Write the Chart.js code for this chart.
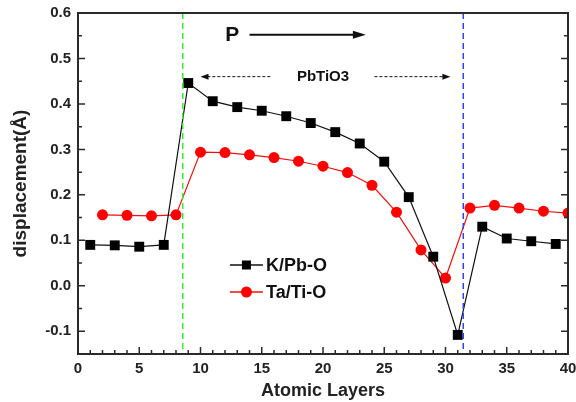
<!DOCTYPE html>
<html>
<head>
<meta charset="utf-8">
<script src="https://cdn.jsdelivr.net/npm/chart.js@4"></script>
<style>
  html, body { margin: 0; padding: 0; background: #fff; }
  #wrap { width: 576px; height: 402px; }
</style>
</head>
<body>
<div id="wrap"><canvas id="chart" width="576" height="402"></canvas></div>
<script>
// data
const kLayers = [1, 3, 5, 7, 9, 11, 13, 15, 17, 19, 21, 23, 25, 27, 29, 31, 33, 35, 37, 39];
const kValues = [0.090, 0.089, 0.086, 0.090, 0.446, 0.406, 0.393, 0.385, 0.373, 0.358, 0.338, 0.313, 0.273, 0.195, 0.064, -0.108, 0.130, 0.104, 0.098, 0.092];
const taLayers = [2, 4, 6, 8, 10, 12, 14, 16, 18, 20, 22, 24, 26, 28, 30, 32, 34, 36, 38, 40];
const taValues = [0.156, 0.155, 0.154, 0.156, 0.294, 0.293, 0.288, 0.282, 0.274, 0.263, 0.249, 0.221, 0.162, 0.079, 0.017, 0.171, 0.177, 0.171, 0.164, 0.160];
const xTicks = [0, 5, 10, 15, 20, 25, 30, 35, 40];
const yTicks = [-0.1, 0.0, 0.1, 0.2, 0.3, 0.4, 0.5, 0.6];
const boundaries = [8.55, 31.45];

const FONT = '"Liberation Sans", Arial, sans-serif';
const AXIS = '#2a2a2a';

const toPts = (xs, ys) => xs.map((x, i) => ({ x: x, y: ys[i] }));

// box, inward ticks, boundaries, arrows, legend
const decor = {
  id: 'decor',
  afterDatasetsDraw(chart) {
    const { ctx, chartArea: a, scales: { x, y } } = chart;
    ctx.save();

    // vertical dashed boundaries
    const bColors = ['#33ee33', '#3344ee'];
    boundaries.forEach((b, i) => {
      const px = x.getPixelForValue(b);
      ctx.strokeStyle = bColors[i];
      ctx.lineWidth = 1.5;
      ctx.setLineDash([6, 4]);
      ctx.beginPath();
      ctx.moveTo(px, a.top);
      ctx.lineTo(px, a.bottom);
      ctx.stroke();
    });
    ctx.setLineDash([]);

    // frame
    ctx.strokeStyle = AXIS;
    ctx.lineWidth = 2;
    ctx.strokeRect(a.left, a.top, a.right - a.left, a.bottom - a.top);

    // ticks (inward)
    ctx.lineWidth = 1.5;
    ctx.beginPath();
    for (let v = 0; v <= 40; v += 1) {
      const px = x.getPixelForValue(v);
      const len = v % 5 === 0 ? 7 : 4;
      ctx.moveTo(px, a.bottom);
      ctx.lineTo(px, a.bottom - len);
    }
    for (let k = -3; k <= 12; k++) {
      const v = k * 0.05;
      const py = y.getPixelForValue(v);
      const len = k % 2 === 0 ? 7 : 4;
      ctx.moveTo(a.left, py);
      ctx.lineTo(a.left + len, py);
      ctx.moveTo(a.right, py);
      ctx.lineTo(a.right - len, py);
    }
    ctx.stroke();

    // P arrow
    const pY = y.getPixelForValue(0.552);
    const p0 = x.getPixelForValue(14.0), p1 = x.getPixelForValue(23.5);
    ctx.fillStyle = '#111';
    ctx.strokeStyle = '#111';
    ctx.lineWidth = 2;
    ctx.beginPath();
    ctx.moveTo(p0, pY);
    ctx.lineTo(p1 - 8, pY);
    ctx.stroke();
    ctx.beginPath();
    ctx.moveTo(p1, pY);
    ctx.lineTo(p1 - 13, pY - 4);
    ctx.lineTo(p1 - 13, pY + 4);
    ctx.closePath();
    ctx.fill();
    ctx.font = 'bold 21px ' + FONT;
    ctx.textAlign = 'center';
    ctx.textBaseline = 'middle';
    ctx.fillText('P', x.getPixelForValue(12.6), pY);

    // PbTiO3 span
    const sY = y.getPixelForValue(0.46);
    ctx.font = 'bold 15px ' + FONT;
    ctx.fillText('PbTiO3', x.getPixelForValue(20.0), sY);
    ctx.lineWidth = 1;
    ctx.setLineDash([3, 2]);
    ctx.beginPath();
    ctx.moveTo(x.getPixelForValue(15.7), sY);
    ctx.lineTo(x.getPixelForValue(10.0) + 6, sY);
    ctx.moveTo(x.getPixelForValue(24.2), sY);
    ctx.lineTo(x.getPixelForValue(30.4) - 6, sY);
    ctx.stroke();
    ctx.setLineDash([]);
    const head = (px, dir) => {
      ctx.beginPath();
      ctx.moveTo(px, sY);
      ctx.lineTo(px - dir * 8, sY - 3);
      ctx.lineTo(px - dir * 8, sY + 3);
      ctx.closePath();
      ctx.fill();
    };
    head(x.getPixelForValue(10.0), -1);
    head(x.getPixelForValue(30.4), 1);

    // legend
    const lx0 = x.getPixelForValue(12.4), lx1 = x.getPixelForValue(15.1);
    const lxm = (lx0 + lx1) / 2;
    chart.data.datasets.forEach((ds, i) => {
      const ly = 265 + i * 27;
      ctx.strokeStyle = ds.borderColor;
      ctx.lineWidth = 1.5;
      ctx.beginPath();
      ctx.moveTo(lx0, ly);
      ctx.lineTo(lx1, ly);
      ctx.stroke();
      ctx.fillStyle = ds.backgroundColor;
      if (ds.pointStyle === 'rect') {
        ctx.fillRect(lxm - 4.5, ly - 4.5, 9, 9);
      } else {
        ctx.beginPath();
        ctx.arc(lxm, ly, 5.5, 0, Math.PI * 2);
        ctx.fill();
      }
      ctx.fillStyle = '#111';
      ctx.font = 'bold 18px ' + FONT;
      ctx.textAlign = 'left';
      ctx.fillText(ds.label, lx1 + 3, ly + 1);
    });

    ctx.restore();
  }
};

new Chart(document.getElementById('chart'), {
  type: 'line',
  data: {
    datasets: [{
      label: 'K/Pb-O',
      data: toPts(kLayers, kValues),
      borderColor: '#111111',
      backgroundColor: '#000000',
      borderWidth: 1.2,
      pointStyle: 'rect',
      pointRadius: 7,
      pointBorderWidth: 0,
      tension: 0
    }, {
      label: 'Ta/Ti-O',
      data: toPts(taLayers, taValues),
      borderColor: '#ee1111',
      backgroundColor: '#ff0000',
      borderWidth: 1.2,
      pointStyle: 'circle',
      pointRadius: 5.5,
      pointBorderWidth: 0,
      tension: 0
    }]
  },
  options: {
    responsive: false,
    animation: false,
    devicePixelRatio: 1,
    layout: { autoPadding: false, padding: { top: 13, right: 8, left: 0, bottom: 0 } },
    plugins: { legend: { display: false }, tooltip: { enabled: false } },
    scales: {
      x: {
        type: 'linear',
        min: 0,
        max: 40,
        afterBuildTicks: s => { s.ticks = xTicks.map(v => ({ value: v })); },
        afterFit: s => { s.height = 48; s.paddingLeft = 0; s.paddingRight = 0; },
        grid: { display: false, drawTicks: false },
        border: { display: false },
        ticks: {
          color: '#222',
          padding: 6,
          maxRotation: 0,
          font: { family: FONT, size: 15, weight: 'bold' }
        },
        title: {
          display: true,
          text: 'Atomic Layers',
          color: '#222',
          padding: { top: 0, bottom: 0 },
          font: { family: FONT, size: 18, weight: 'bold' }
        }
      },
      y: {
        min: -0.15,
        max: 0.6,
        afterBuildTicks: s => { s.ticks = yTicks.map(v => ({ value: v })); },
        afterFit: s => { s.width = 78; s.paddingTop = 0; s.paddingBottom = 0; },
        grid: { display: false, drawTicks: false },
        border: { display: false },
        ticks: {
          color: '#222',
          padding: 7,
          font: { family: FONT, size: 15, weight: 'bold' },
          callback: v => v.toFixed(1)
        },
        title: {
          display: true,
          text: 'displacement(Å)',
          color: '#222',
          padding: { top: 9, bottom: 0 },
          font: { family: FONT, size: 19, weight: 'bold' }
        }
      }
    }
  },
  plugins: [decor]
});
</script>
</body>
</html>
